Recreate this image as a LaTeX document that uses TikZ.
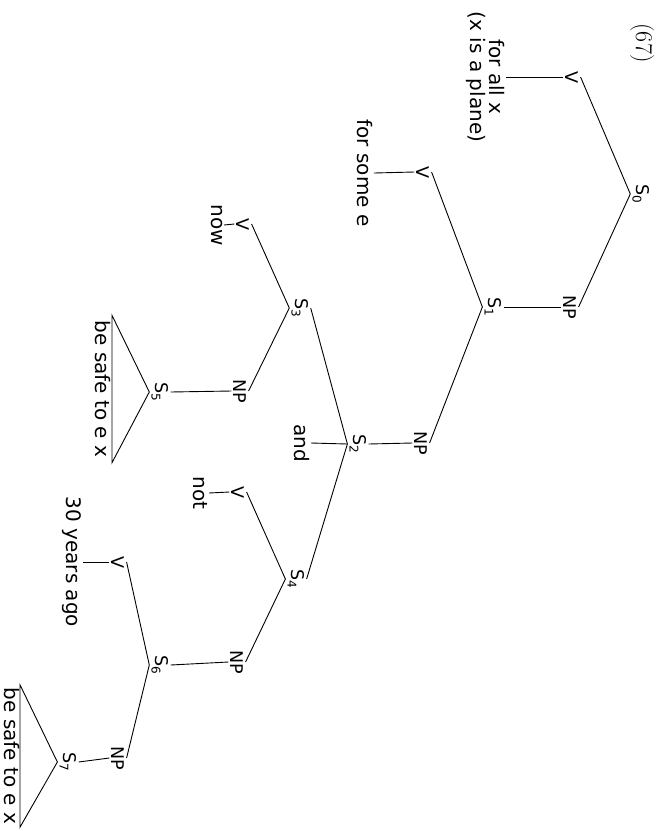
\documentclass[tikz,border=0pt]{standalone}
\usepackage{fontspec}
\newfontfamily\dvs{DejaVu Sans}
\newcommand\Ssub[1]{S\raisebox{-0.22em}{\fontsize{12}{12}\selectfont #1}}
\begin{document}
\begin{tikzpicture}[x=1pt,y=1pt,
  cat/.style={font=\dvs\fontsize{17.5}{17.5}\selectfont, rotate=-90, inner sep=2pt},
  word/.style={font=\dvs\fontsize{20}{19}\selectfont, rotate=-90, inner sep=1.5pt, align=center},
  branch/.style={line width=0.9pt}]
\useasboundingbox (0,0) rectangle (664,-831);
\node[font=\fontsize{24}{24}\selectfont, rotate=-90] (EX) at (642,-43) {(67)};
\node[cat] (S0) at (641,-194) {\Ssub{0}};
\node[cat] (V0) at (572,-77) {V};
\node[word, anchor=north] (F0) at (506,-77) {for all x\\(x is a plane)};
\node[cat] (NP0) at (570,-307) {NP};
\node[cat] (S1) at (493,-307) {\Ssub{1}};
\node[cat] (V1) at (423,-172) {V};
\node[word, anchor=north] (F1) at (374,-173) {for some e};
\node[cat] (NP1) at (421,-443) {NP};
\node[cat] (S2) at (358,-444) {\Ssub{2}};
\node[word, anchor=north] (AND) at (311,-443) {and};
\node[cat] (S3) at (300,-308) {\Ssub{3}};
\node[cat] (V3) at (243,-224) {V};
\node[word, anchor=north] (NOW) at (224,-225) {now};
\node[cat] (NP3) at (240,-391) {NP};
\node[cat] (S5) at (160,-392) {\Ssub{5}};
\node[word, anchor=north, minimum width=147pt, inner sep=1pt] (T5) at (112,-389) {be safe to e x};
\node[cat] (S4) at (296,-579) {\Ssub{4}};
\node[cat] (V4) at (238,-492) {V};
\node[word, anchor=north] (NOT) at (209,-493) {not};
\node[cat] (NP4) at (237,-662) {NP};
\node[cat] (S6) at (160,-665) {\Ssub{6}};
\node[cat] (V6) at (118,-562) {V};
\node[word, anchor=north] (AGO) at (83,-562) {30 years ago};
\node[cat] (NP6) at (118,-758) {NP};
\node[cat] (S7) at (68,-762) {\Ssub{7}};
\node[word, anchor=north, minimum width=142pt, inner sep=0.5pt] (T7) at (20,-756) {be safe to e x};
\draw[branch] (S0.south) -- (V0.north);
\draw[branch] (S0.south) -- (NP0.north);
\draw[branch] (V0.south) -- (F0.north);
\draw[branch] (NP0.south) -- (S1.north);
\draw[branch] (S1.south) -- (V1.north);
\draw[branch] (S1.south) -- (NP1.north);
\draw[branch] (V1.south) -- (F1.north);
\draw[branch] (NP1.south) -- (S2.north);
\draw[branch] (S2.south) -- (AND.north);
\draw[branch] (S2.south) -- (S3.north);
\draw[branch] (S2.south) -- (S4.north);
\draw[branch] (S3.south) -- (V3.north);
\draw[branch] (S3.south) -- (NP3.north);
\draw[branch] (V3.south) -- (NOW.north);
\draw[branch] (NP3.south) -- (S5.north);
\draw[branch] (S5.south) -- (T5.north west) -- (T5.north east) -- cycle;
\draw[branch] (S4.south) -- (V4.north);
\draw[branch] (S4.south) -- (NP4.north);
\draw[branch] (V4.south) -- (NOT.north);
\draw[branch] (NP4.south) -- (S6.north);
\draw[branch] (S6.south) -- (V6.north);
\draw[branch] (S6.south) -- (NP6.north);
\draw[branch] (V6.south) -- (AGO.north);
\draw[branch] (NP6.south) -- (S7.north);
\draw[branch] (S7.south) -- (T7.north west) -- (T7.north east) -- cycle;
\end{tikzpicture}
\end{document}
